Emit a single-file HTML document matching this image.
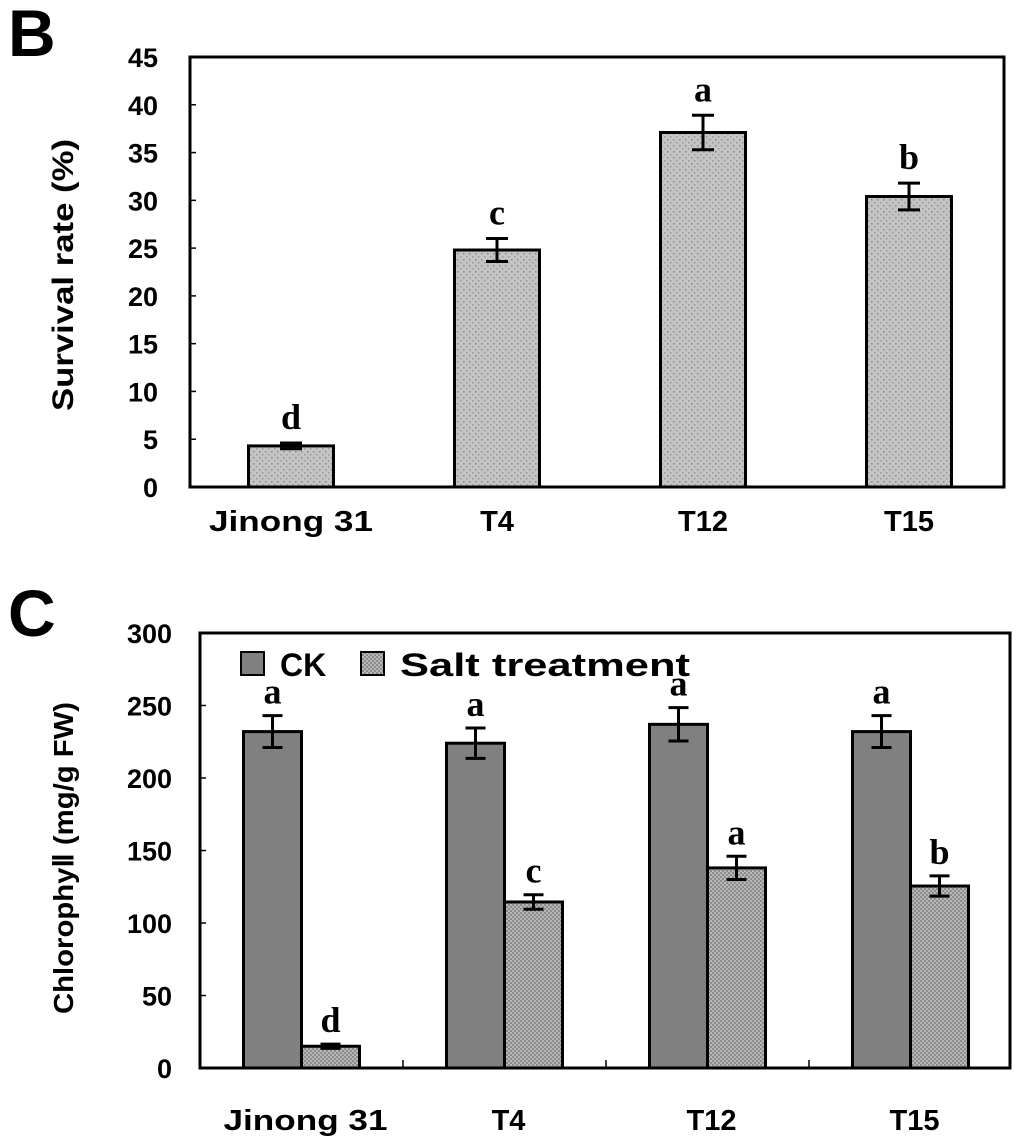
<!DOCTYPE html>
<html><head><meta charset="utf-8"><style>
html,body{margin:0;padding:0;background:#fff;}
svg{display:block;font-family:"Liberation Sans",Arial,sans-serif;}
</style></head><body>
<svg id="chart" width="1024" height="1148" viewBox="0 0 1024 1148" xmlns="http://www.w3.org/2000/svg">
<defs>
<pattern id="dots" width="6" height="6" patternUnits="userSpaceOnUse">
<rect width="6" height="6" fill="#c4c4c4"/><rect x="1" y="1" width="1.5" height="1.5" fill="#8a8a8a"/><rect x="4" y="4" width="1.5" height="1.5" fill="#9a9a9a"/>
</pattern>
<pattern id="checker" width="4" height="4" patternUnits="userSpaceOnUse">
<rect width="4" height="4" fill="#b8b8b8"/><rect width="2" height="2" fill="#8c8c8c"/><rect x="2" y="2" width="2" height="2" fill="#8c8c8c"/>
</pattern>
</defs>
<text x="8" y="56" font-size="66" font-weight="bold">B</text>
<text x="8" y="636" font-size="66" font-weight="bold">C</text>
<g id="pb"></g>
<g id="pc"></g>
</svg>
<script>
// Panel B data
const bCategories = ["Jinong 31","T4","T12","T15"];
const bValues = [4.3, 24.8, 37.1, 30.4];
const bErrors = [0.3, 1.2, 1.8, 1.4];
const bLetters = ["d","c","a","b"];
const bTicks = [0,5,10,15,20,25,30,35,40,45];
// Panel C data
const cCategories = ["Jinong 31","T4","T12","T15"];
const cCK = [232, 224, 237, 232];
const cCKErr = [11, 10.5, 11.5, 11];
const cSalt = [15, 114.5, 138, 125.5];
const cSaltErr = [1.5, 5, 8, 7];
const cCKLetters = ["a","a","a","a"];
const cSaltLetters = ["d","c","a","b"];
const cTicks = [0,50,100,150,200,250,300];

const NS="http://www.w3.org/2000/svg";
function mk(parent,tag,attrs,text){const e=document.createElementNS(NS,tag);for(const k in attrs)e.setAttribute(k,attrs[k]);if(text!==undefined)e.textContent=text;parent.appendChild(e);return e;}
function xLabel(g,c,x,y,name){
 const a={x:x,y:y,'font-size':29,'font-weight':'bold','text-anchor':'middle'};
 if(c==="Jinong 31"){a.textLength=164;a.lengthAdjust='spacingAndGlyphs';}
 let xl=mk(g,'text',a,c);
 
}

// ---- Panel B ----
(function(){
const g=document.getElementById('pb');
const L=190,R=1004,T=57,B=487,max=45;
const y=v=>B-(v/max)*(B-T);
const cw=(1012-188)/4;
const cx=i=>188+(i+0.5)*cw;
let e=mk(g,'rect',{x:L,y:T,width:R-L,height:B-T,fill:'none',stroke:'#000','stroke-width':3});

bTicks.forEach(t=>{
 let l=mk(g,'line',{x1:L,x2:L+6,y1:y(t),y2:y(t),stroke:'#000','stroke-width':1.5});
 
 let tx=mk(g,'text',{x:158,y:y(t)+10,'font-size':27,'font-weight':'bold','text-anchor':'end'},String(t));
 
});
bCategories.forEach((c,i)=>{
 const x=cx(i)-42.5,w=85;
 let r=mk(g,'rect',{x:x,y:y(bValues[i]),width:w,height:B-y(bValues[i]),fill:'url(#dots)',stroke:'#000','stroke-width':3});
 
 const yt=y(bValues[i]+bErrors[i]),yb=y(bValues[i]-bErrors[i]);
 let eb=mk(g,'path',{d:`M${cx(i)},${yt}V${yb}M${cx(i)-11},${yt}H${cx(i)+11}M${cx(i)-11},${yb}H${cx(i)+11}`,stroke:'#000','stroke-width':3,fill:'none'});
 
 let lt=mk(g,'text',{x:cx(i),y:yt-14,'font-size':36,'font-weight':'bold','text-anchor':'middle','font-family':'"Liberation Serif",serif'},bLetters[i]);
 
 xLabel(g,c,cx(i),531,'x-label-b');
});
let yt=mk(g,'text',{transform:'translate(73,275) rotate(-90)','font-size':30,'font-weight':'bold','text-anchor':'middle',textLength:272,lengthAdjust:'spacingAndGlyphs'},'Survival rate (%)');

})();

// ---- Panel C ----
(function(){
const g=document.getElementById('pc');
const L=200,R=1010,T=633,B=1068,max=300;
const y=v=>B-(v/max)*(B-T);
const cw=203;
const cx=i=>L+(i+0.5)*cw;
let e=mk(g,'rect',{x:L,y:T,width:R-L,height:B-T,fill:'none',stroke:'#000','stroke-width':3});

cTicks.forEach(t=>{
 let l=mk(g,'line',{x1:L,x2:L+6,y1:y(t),y2:y(t),stroke:'#000','stroke-width':1.5});
 
 let tx=mk(g,'text',{x:172,y:y(t)+10,'font-size':27,'font-weight':'bold','text-anchor':'end'},String(t));
 
});
for(let i=1;i<4;i++){let l=mk(g,'line',{x1:L+i*cw,x2:L+i*cw,y1:B,y2:B-8,stroke:'#000','stroke-width':1.5});
 }
function bar(i,v,err,letter,off,fill,name){
 const w=58,x=cx(i)+off,xc=x+w/2;
 let r=mk(g,'rect',{x:x,y:y(v),width:w,height:B-y(v),fill:fill,stroke:'#000','stroke-width':3});
 
 const yt=y(v+err),yb=y(v-err);
 let eb=mk(g,'path',{d:`M${xc},${yt}V${yb}M${xc-10},${yt}H${xc+10}M${xc-10},${yb}H${xc+10}`,stroke:'#000','stroke-width':3,fill:'none'});
 
 let lt=mk(g,'text',{x:xc,y:yt-12,'font-size':36,'font-weight':'bold','text-anchor':'middle','font-family':'"Liberation Serif",serif'},letter);
 
}
cCategories.forEach((c,i)=>{
 const slug=c.toLowerCase().replace(/\s/g,'-');
 bar(i,cCK[i],cCKErr[i],cCKLetters[i],-58,'#808080','bar-ck-'+slug);
 bar(i,cSalt[i],cSaltErr[i],cSaltLetters[i],0,'url(#checker)','bar-salt-'+slug);
 xLabel(g,c,cx(i)+4,1130,'x-label-c');
});
let lg=mk(g,'g',{});

let s1=mk(lg,'rect',{x:241,y:652,width:23,height:23,fill:'#808080',stroke:'#000','stroke-width':2});

let t1=mk(lg,'text',{x:280,y:676,'font-size':32,'font-weight':'bold'},'CK');

let s2=mk(lg,'rect',{x:361,y:652,width:23,height:23,fill:'url(#checker)',stroke:'#000','stroke-width':2});

let t2=mk(lg,'text',{x:400,y:676,'font-size':32,'font-weight':'bold',textLength:290,lengthAdjust:'spacingAndGlyphs'},'Salt treatment');

let yt=mk(g,'text',{transform:'translate(73,858) rotate(-90)','font-size':28,'font-weight':'bold','text-anchor':'middle',textLength:312,lengthAdjust:'spacingAndGlyphs'},'ChlorophyⅡ (mg/g FW)');

})();
</script>
</body></html>
